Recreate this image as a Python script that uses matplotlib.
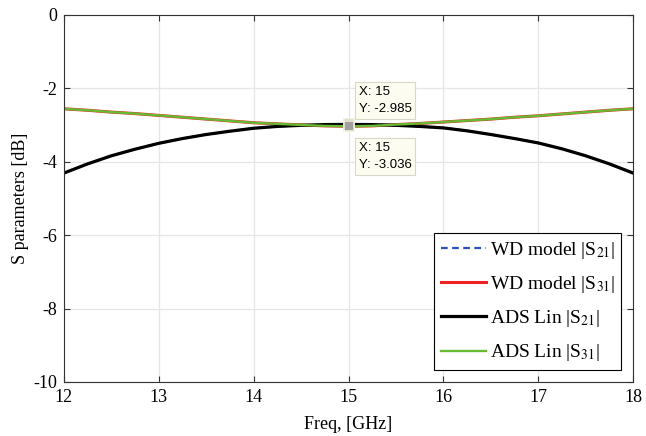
import matplotlib
matplotlib.use("Agg")
import matplotlib.pyplot as plt

plt.rcParams['font.family'] = ['Liberation Serif', 'DejaVu Serif']
plt.rcParams['mathtext.fontset'] = 'stix'
plt.rcParams['axes.unicode_minus'] = False

freq = [12.00, 12.25, 12.50, 12.75, 13.00, 13.25, 13.50, 13.75, 14.00, 14.25,
        14.50, 14.75, 15.00, 15.25, 15.50, 15.75, 16.00, 16.25, 16.50, 16.75,
        17.00, 17.25, 17.50, 17.75, 18.00]

# ADS linear simulation (dB)
ads_s21 = [-4.31, -4.06, -3.84, -3.66, -3.50, -3.37, -3.26, -3.17, -3.09, -3.04,
           -3.01, -2.99, -2.985, -2.99, -3.01, -3.04, -3.08, -3.16, -3.26, -3.37,
           -3.49, -3.65, -3.84, -4.06, -4.31]
ads_s31 = [-2.56, -2.60, -2.65, -2.69, -2.74, -2.79, -2.84, -2.89, -2.94, -2.97,
           -3.00, -3.025, -3.036, -3.025, -2.99, -2.96, -2.92, -2.88, -2.84, -2.79,
           -2.75, -2.70, -2.65, -2.60, -2.56]

# Wave-digital model (dB)
wd_s21 = [-4.31, -4.06, -3.84, -3.66, -3.50, -3.37, -3.26, -3.17, -3.09, -3.04,
          -3.01, -2.99, -2.985, -2.99, -3.01, -3.04, -3.08, -3.16, -3.26, -3.37,
          -3.49, -3.65, -3.84, -4.06, -4.31]
wd_s31 = [-2.56, -2.60, -2.65, -2.69, -2.74, -2.79, -2.84, -2.89, -2.94, -2.97,
          -3.00, -3.025, -3.036, -3.025, -2.99, -2.96, -2.92, -2.88, -2.84, -2.79,
          -2.75, -2.70, -2.65, -2.60, -2.56]

tip_x = 15
tip_y_top = -2.985
tip_y_bottom = -3.036

x_ticks = [12, 13, 14, 15, 16, 17, 18]
y_ticks = [0, -2, -4, -6, -8, -10]

fig = plt.figure(figsize=(6.46, 4.36), dpi=100)
ax = fig.add_axes([0.099, 0.124, 0.881, 0.842])

ax.plot(freq, wd_s21, color='#2b4fbf', lw=1.6, ls=(0, (3, 2)), label=r'WD model |S$_{21}$|')
ax.plot(freq, wd_s31, color='#ee2222', lw=2.2, label=r'WD model |S$_{31}$|')
ax.plot(freq, ads_s21, color='black', lw=2.3, label=r'ADS Lin |S$_{21}$|')
ax.plot(freq, ads_s31, color='#66bb33', lw=1.7, label=r'ADS Lin |S$_{31}$|')

ax.set_xlim(12, 18)
ax.set_ylim(-10, 0)
ax.set_xticks(x_ticks)
ax.set_yticks(y_ticks)
ax.grid(True, color='#e6e6e6', lw=0.9)
ax.set_axisbelow(True)
ax.tick_params(direction='in', top=True, right=True, labelsize=13, length=4,
               width=0.8, color='#333333', pad=5)
for s in ax.spines.values():
    s.set_color('#333333')
    s.set_linewidth(0.8)

ax.set_xlabel('Freq, [GHz]', fontsize=13, labelpad=7)
ax.set_ylabel('S parameters [dB]', fontsize=13, labelpad=3)

leg = ax.legend(loc='lower right', fontsize=14, frameon=True, fancybox=False,
                edgecolor='black', framealpha=1, handlelength=2.3,
                handletextpad=0.2, borderpad=0.35, labelspacing=0.68,
                borderaxespad=0.6)
leg.get_frame().set_linewidth(0.8)

# data tips
for ty in (tip_y_top, tip_y_bottom):
    ax.plot([tip_x], [ty], marker='s', ms=7, mfc='#a0a0a0', mec='#f0f0d8',
            mew=1.2, zorder=6)

tip_box = dict(boxstyle='square,pad=0.3', fc='#fcfcf0', ec='#d8d8c8', lw=0.8)
ax.annotate(f'X: {tip_x}\nY: {tip_y_top}', xy=(tip_x, tip_y_top),
            xytext=(10, 9), textcoords='offset pixels', ha='left', va='bottom',
            fontsize=9.5, family='Liberation Sans', bbox=tip_box, zorder=7,
            linespacing=1.6)
ax.annotate(f'X: {tip_x}\nY: {tip_y_bottom}', xy=(tip_x, tip_y_bottom),
            xytext=(10, -16), textcoords='offset pixels', ha='left', va='top',
            fontsize=9.5, family='Liberation Sans', bbox=tip_box, zorder=7,
            linespacing=1.55)

fig.savefig('out.png', dpi=100)
